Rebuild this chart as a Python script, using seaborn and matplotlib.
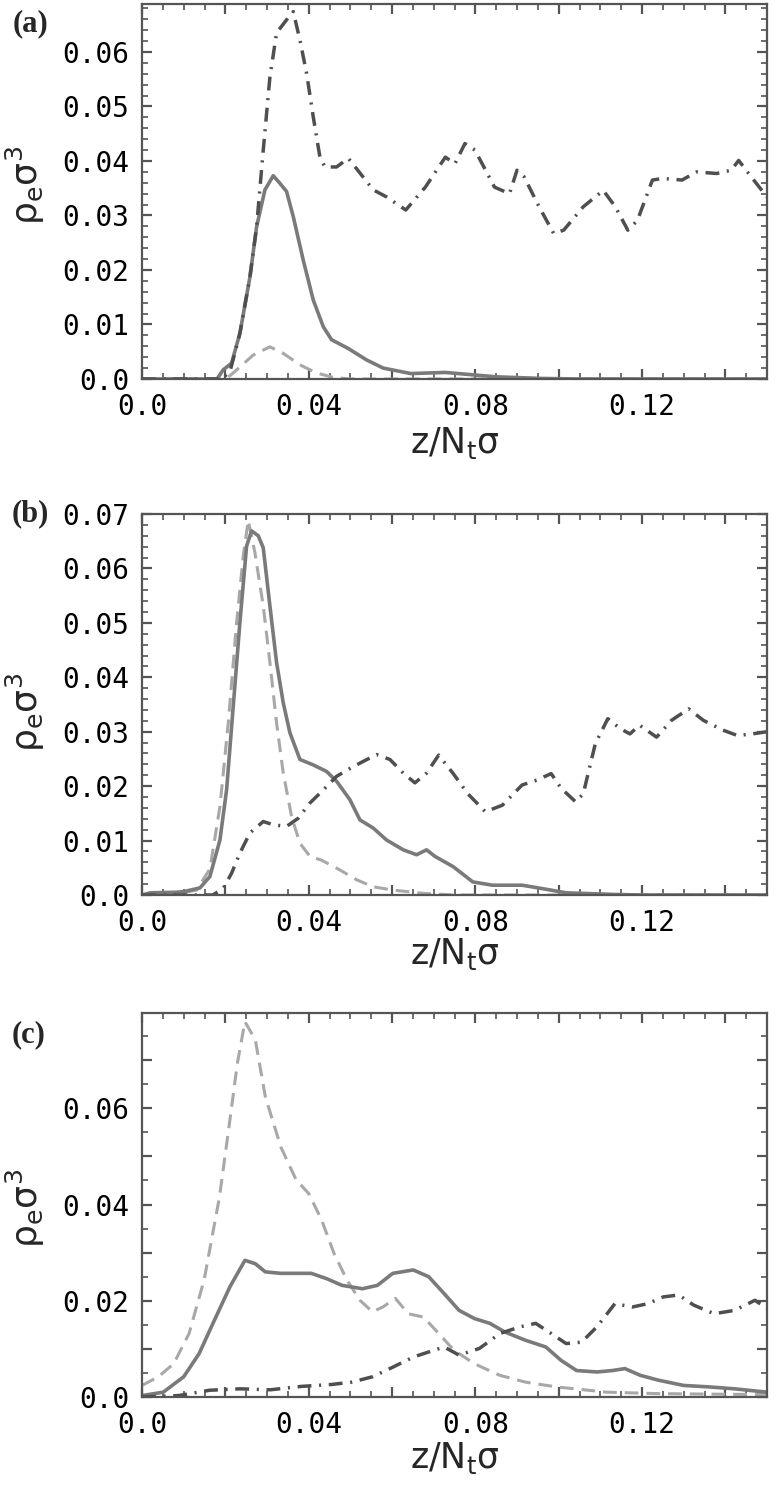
import numpy as np
import matplotlib
matplotlib.use("Agg")
import matplotlib.pyplot as plt
from matplotlib.ticker import MultipleLocator
import seaborn as sns

# ---- panel (a) ----
a_solid_z = [0.0, 0.018, 0.0195, 0.0215, 0.0235, 0.0259, 0.0275, 0.0295, 0.0315, 0.0331, 0.0347,
             0.0363, 0.0387, 0.0411, 0.0435, 0.0455, 0.0495, 0.0539, 0.0579, 0.0645, 0.0728,
             0.085, 0.096, 0.105, 0.15]
a_solid_rho = [0.0, 0.0, 0.0017, 0.0029, 0.0084, 0.0187, 0.0279, 0.0347, 0.0373, 0.0359, 0.0344,
               0.0298, 0.0218, 0.0145, 0.0096, 0.0072, 0.0056, 0.0035, 0.002, 0.001, 0.0012,
               0.0004, 0.0001, 0.0, 0.0]
a_dash_z = [0.0, 0.0195, 0.0211, 0.0235, 0.0267, 0.0307, 0.0339, 0.0379, 0.0419, 0.0459, 0.05, 0.15]
a_dash_rho = [0.0, 0.0, 0.0006, 0.0022, 0.0044, 0.0059, 0.0047, 0.0026, 0.0011, 0.0003, 0.0, 0.0]
a_dd_z = [0.0, 0.019, 0.0211, 0.0235, 0.0259, 0.0275, 0.0291, 0.0307, 0.0323, 0.0347, 0.0363,
          0.0379, 0.0395, 0.0411, 0.0427, 0.0439, 0.0467, 0.0495, 0.0523, 0.0555, 0.0587,
          0.0633, 0.068, 0.0728, 0.0751, 0.0775, 0.0799, 0.0846, 0.0882, 0.09, 0.0917,
          0.0953, 0.0988, 0.1012, 0.1059, 0.1107, 0.1136, 0.1166, 0.1189, 0.1225, 0.1249,
          0.1296, 0.1331, 0.1379, 0.1414, 0.1432, 0.1462, 0.15]
a_dd_rho = [0.0, 0.0, 0.0013, 0.0084, 0.0187, 0.0279, 0.042, 0.0554, 0.0635, 0.0659, 0.0674,
            0.0622, 0.0561, 0.0481, 0.0407, 0.0389, 0.0389, 0.0405, 0.0378, 0.0347, 0.0334,
            0.031, 0.0352, 0.0407, 0.0395, 0.0432, 0.042, 0.0352, 0.034, 0.0383, 0.0371,
            0.0316, 0.0267, 0.0273, 0.0316, 0.0346, 0.0316, 0.0273, 0.0291, 0.0365, 0.0368,
            0.0365, 0.038, 0.0377, 0.0383, 0.0401, 0.0371, 0.0334]

# ---- panel (b) ----
b_solid_z = [0.0, 0.002, 0.008, 0.0099, 0.0139, 0.0163, 0.0187, 0.0203, 0.0219, 0.0235, 0.0251,
             0.0263, 0.0279, 0.0291, 0.0307, 0.0323, 0.0339, 0.0355, 0.0379, 0.0411, 0.0443,
             0.0467, 0.0499, 0.0523, 0.0555, 0.0587, 0.0627, 0.0659, 0.0683, 0.0703, 0.0747,
             0.0794, 0.0841, 0.0912, 0.0959, 0.1018, 0.1135, 0.12, 0.15]
b_solid_rho = [0.0, 0.0004, 0.0005, 0.0006, 0.0013, 0.0034, 0.0101, 0.0193, 0.0347, 0.0501, 0.0641,
               0.0669, 0.066, 0.0638, 0.0531, 0.0427, 0.0353, 0.0298, 0.0249, 0.0239, 0.0227,
               0.0209, 0.0175, 0.0138, 0.0123, 0.0101, 0.0083, 0.0074, 0.0083, 0.0071, 0.0052,
               0.0024, 0.0018, 0.0018, 0.0012, 0.0004, 0.0001, 0.0, 0.0]
b_dash_z = [0.0, 0.002, 0.009, 0.0131, 0.0163, 0.0187, 0.0207, 0.0227, 0.0243, 0.0255, 0.0271,
            0.0291, 0.0307, 0.0323, 0.0339, 0.0359, 0.0379, 0.0403, 0.0431, 0.0475, 0.0515,
            0.0555, 0.0603, 0.0675, 0.075, 0.15]
b_dash_rho = [0.0, 0.0003, 0.0003, 0.0009, 0.0048, 0.0162, 0.0316, 0.05, 0.0623, 0.0688, 0.0629,
              0.0531, 0.0427, 0.0316, 0.0224, 0.0144, 0.0095, 0.0071, 0.0064, 0.0046, 0.0028,
              0.0015, 0.0009, 0.0003, 0.0, 0.0]
b_dd_z = [0.0, 0.017, 0.0195, 0.0215, 0.0235, 0.0259, 0.0291, 0.0315, 0.0347, 0.0375, 0.0403,
          0.0435, 0.0467, 0.0507, 0.0563, 0.0595, 0.0627, 0.0655, 0.0683, 0.0712, 0.0747,
          0.0782, 0.0824, 0.0865, 0.0912, 0.0947, 0.0982, 0.1006, 0.1041, 0.1059, 0.1088,
          0.1118, 0.1147, 0.1171, 0.1194, 0.1235, 0.1271, 0.1312, 0.1347, 0.1394, 0.1429,
          0.1465, 0.15]
b_dd_rho = [0.0, 0.0, 0.0012, 0.004, 0.0077, 0.0114, 0.0135, 0.0129, 0.0126, 0.0141, 0.0169,
            0.0193, 0.0218, 0.0236, 0.0258, 0.0249, 0.0224, 0.0206, 0.0224, 0.0257, 0.0223,
            0.0186, 0.0153, 0.0165, 0.0202, 0.0211, 0.0223, 0.0196, 0.0171, 0.0186, 0.0278,
            0.0324, 0.0306, 0.0296, 0.0312, 0.029, 0.0321, 0.0342, 0.0321, 0.0303, 0.0293,
            0.0296, 0.03]

# ---- panel (c) ----
c_solid_z = [0.0, 0.0051, 0.01, 0.0137, 0.0174, 0.0211, 0.0247, 0.0272, 0.0296, 0.0333, 0.0382,
             0.0406, 0.0443, 0.048, 0.0529, 0.0565, 0.0602, 0.0651, 0.0688, 0.0725, 0.0761,
             0.0798, 0.0835, 0.0871, 0.092, 0.0969, 0.1006, 0.1043, 0.1092, 0.1129, 0.1159,
             0.1196, 0.1239, 0.13, 0.1361, 0.1422, 0.15]
c_solid_rho = [0.0003, 0.001, 0.0042, 0.009, 0.016, 0.0229, 0.0284, 0.0277, 0.026, 0.0257, 0.0257,
               0.0257, 0.0246, 0.0232, 0.0225, 0.0232, 0.0257, 0.0264, 0.025, 0.0215, 0.018,
               0.0163, 0.0153, 0.0135, 0.0118, 0.0104, 0.0076, 0.0055, 0.0052, 0.0055, 0.0059,
               0.0045, 0.0035, 0.0024, 0.0021, 0.0017, 0.001]
c_dash_z = [0.0, 0.0039, 0.0076, 0.0113, 0.0149, 0.0186, 0.0211, 0.0229, 0.0247, 0.0272, 0.0296,
            0.0333, 0.037, 0.04, 0.0431, 0.0461, 0.0492, 0.0523, 0.0553, 0.0578, 0.0608,
            0.0639, 0.0676, 0.0712, 0.0749, 0.0798, 0.0859, 0.092, 0.0994, 0.1116, 0.1239,
            0.1361, 0.15]
c_dash_rho = [0.0024, 0.0042, 0.0069, 0.0132, 0.0243, 0.0416, 0.0576, 0.0694, 0.078, 0.0742, 0.0624,
              0.052, 0.0451, 0.0423, 0.0368, 0.0298, 0.0243, 0.0201, 0.0177, 0.0187, 0.0205,
              0.0173, 0.0166, 0.0132, 0.0097, 0.0069, 0.0045, 0.0031, 0.0021, 0.001, 0.0007,
              0.0006, 0.0005]
c_dd_z = [0.0, 0.0088, 0.0162, 0.0235, 0.0308, 0.0382, 0.0455, 0.0504, 0.0553, 0.0602, 0.0651,
          0.07, 0.0725, 0.0761, 0.081, 0.0859, 0.0908, 0.0945, 0.0982, 0.1018, 0.1055,
          0.1092, 0.1135, 0.1177, 0.1214, 0.1251, 0.1288, 0.1324, 0.1373, 0.1422, 0.1471, 0.15]
c_dd_rho = [0.0, 0.0003, 0.0014, 0.0017, 0.0015, 0.0022, 0.0026, 0.0031, 0.0042, 0.0062, 0.0083,
            0.0097, 0.0104, 0.0087, 0.0101, 0.0132, 0.0146, 0.0153, 0.0132, 0.0111, 0.0114,
            0.0146, 0.0194, 0.0187, 0.0194, 0.0208, 0.0212, 0.0191, 0.0173, 0.018, 0.0201, 0.0184]

xtick_vals = [0.0, 0.02, 0.04, 0.06, 0.08, 0.10, 0.12, 0.14]
xtick_labels = ["0.0", "", "0.04", "", "0.08", "", "0.12", ""]
a_ytick_vals = [0.0, 0.01, 0.02, 0.03, 0.04, 0.05, 0.06]
a_ytick_labels = ["0.0", "0.01", "0.02", "0.03", "0.04", "0.05", "0.06"]
b_ytick_vals = [0.0, 0.01, 0.02, 0.03, 0.04, 0.05, 0.06, 0.07]
b_ytick_labels = ["0.0", "0.01", "0.02", "0.03", "0.04", "0.05", "0.06", "0.07"]
c_ytick_vals = [0.0, 0.01, 0.02, 0.03, 0.04, 0.05, 0.06, 0.07]
c_ytick_labels = ["0.0", "", "0.02", "", "0.04", "", "0.06", ""]
panel_tags = ["(a)", "(b)", "(c)"]

sns.set_style("ticks")
plt.rcParams["font.family"] = ["DejaVu Sans"]
plt.rcParams["mathtext.fontset"] = "dejavusans"

W, H = 779, 1485
fig = plt.figure(figsize=(W / 100, H / 100), dpi=100)
fig.patch.set_facecolor("white")

# axes boxes in pixels: (left, top, right, bottom)
boxes = [(142, 4, 767, 379), (142, 514, 767, 895), (142, 1013, 767, 1397)]
ylims = [0.0688, 0.07, 0.0798]
ytick_sets = [(a_ytick_vals, a_ytick_labels, 0.002),
              (b_ytick_vals, b_ytick_labels, 0.002),
              (c_ytick_vals, c_ytick_labels, 0.005)]
series = [
    (a_solid_z, a_solid_rho, a_dash_z, a_dash_rho, a_dd_z, a_dd_rho),
    (b_solid_z, b_solid_rho, b_dash_z, b_dash_rho, b_dd_z, b_dd_rho),
    (c_solid_z, c_solid_rho, c_dash_z, c_dash_rho, c_dd_z, c_dd_rho),
]
xlabel_y = [-0.17, -0.155, -0.158]
ylabel_y = [0.517, 0.48, 0.49]
tag_pos = [(30, 24), (30, 514), (29, 1035)]

edge = "#555555"
for i, (l, t, r, b) in enumerate(boxes):
    ax = fig.add_axes([l / W, 1 - b / H, (r - l) / W, (b - t) / H])
    sz, sr, dz, dr, ddz, ddr = series[i]
    sns.lineplot(x=dz, y=dr, ax=ax, color="#a8a8a8", lw=2.2,
                 linestyle=(0, (4.5, 2.6)), estimator=None, errorbar=None)
    sns.lineplot(x=sz, y=sr, ax=ax, color="#7a7a7a", lw=2.6,
                 estimator=None, errorbar=None)
    sns.lineplot(x=ddz, y=ddr, ax=ax, color="#4f4f4f", lw=2.5,
                 linestyle=(0, (4.0, 2.2, 0.6, 2.2)), estimator=None, errorbar=None)

    ax.set_xlim(0, 0.15)
    ax.set_ylim(0, ylims[i])
    ax.set_xticks(xtick_vals)
    ax.set_xticklabels(xtick_labels, family="DejaVu Sans Mono", fontsize=20)
    yv, yl, ymin = ytick_sets[i]
    ax.set_yticks(yv)
    ax.set_yticklabels(yl, family="DejaVu Sans Mono", fontsize=20)
    ax.xaxis.set_minor_locator(MultipleLocator(0.005))
    ax.yaxis.set_minor_locator(MultipleLocator(ymin))
    ax.tick_params(which="both", direction="in", top=True, right=True,
                   colors=edge, labelcolor="black")
    ax.tick_params(axis="x", pad=10)
    ax.tick_params(axis="y", pad=9)
    ax.tick_params(which="major", length=7, width=1.6)
    ax.tick_params(which="minor", length=4, width=1.2)
    for sp in ax.spines.values():
        sp.set_color(edge)
        sp.set_linewidth(1.6)

    ax.set_xlabel("z/N$_\\mathregular{t}$σ", fontsize=25)
    ax.xaxis.set_label_coords(0.5, xlabel_y[i])
    ax.xaxis.label.set_va("center")
    ax.set_ylabel("ρ$_\\mathregular{e}$σ$^\\mathregular{3}$", fontsize=26)
    ax.yaxis.set_label_coords(-0.186, ylabel_y[i])
    ax.yaxis.label.set_va("center")

    tx, ty = tag_pos[i]
    fig.text(tx / W, 1 - ty / H, panel_tags[i], ha="center", va="center",
             family="Liberation Serif", fontweight="bold", fontsize=22)

fig.savefig("out.png", dpi=100, facecolor="white")
